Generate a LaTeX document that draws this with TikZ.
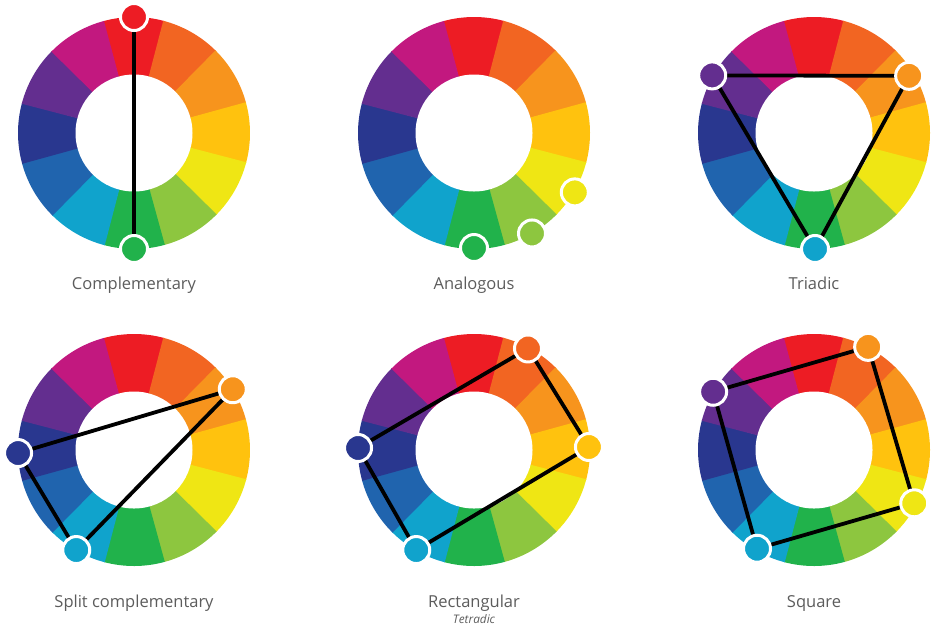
\documentclass[tikz,border=0pt]{standalone}
\usepackage{fontspec}
\setmainfont{Open Sans}
\definecolor{wred}{HTML}{ED1C24}
\definecolor{wredorange}{HTML}{F26522}
\definecolor{worange}{HTML}{F7941D}
\definecolor{wyelloworange}{HTML}{FFC20E}
\definecolor{wyellow}{HTML}{EFE614}
\definecolor{wyellowgreen}{HTML}{8DC63F}
\definecolor{wgreen}{HTML}{21B24B}
\definecolor{wcyan}{HTML}{10A3CC}
\definecolor{wblue}{HTML}{2064AE}
\definecolor{windigo}{HTML}{29378F}
\definecolor{wviolet}{HTML}{632E8F}
\definecolor{wmagenta}{HTML}{C2187F}
\definecolor{labelgray}{HTML}{5C5C5C}
\pgfdeclarelayer{edges}
\pgfdeclarelayer{marks}
\pgfsetlayers{main,edges,marks}
\tikzset{
  wheel/.pic={
    \foreach \c [count=\i from 0] in {wred,wredorange,worange,wyelloworange,wyellow,wyellowgreen,wgreen,wcyan,wblue,windigo,wviolet,wmagenta}
      \fill[\c] (0,0) -- (105.4-30*\i:116) arc[start angle=105.4-30*\i, end angle=75-30*\i, radius=116] -- cycle;
    \fill[white] (0,0) circle[radius=58.5];
  },
  swatch/.style={circle, fill=#1, draw=white, line width=3pt, minimum size=27pt, inner sep=0pt},
  link/.style={line width=3.8pt, black},
  caption/.style={anchor=base, text=labelgray, font=\fontsize{16.5}{20}\selectfont},
  subcaption/.style={anchor=base, text=labelgray, font=\fontsize{11.8}{14}\selectfont\itshape},
}
\begin{document}
\begin{tikzpicture}[x=1pt,y=1pt]
  \useasboundingbox (0,0) rectangle (933,-625);
  % complementary
  \begin{scope}[shift={(134,-133)}]
    \pic {wheel};
    \begin{pgfonlayer}{marks}
      \node[swatch=wred] (cm1) at (90:116) {};
      \node[swatch=wgreen] (cm2) at (-90:116) {};
    \end{pgfonlayer}
    \begin{pgfonlayer}{edges}
      \draw[link] (cm1.center) -- (cm2.center);
    \end{pgfonlayer}
    \node[caption] (complementary) at (0,-156.5) {Complementary};
  \end{scope}
  % analogous
  \begin{scope}[shift={(474,-133)}]
    \pic {wheel};
    \node[swatch=wgreen] (an1) at (-90:115) {};
    \node[swatch=wyellowgreen] (an2) at (-60:116) {};
    \node[swatch=wyellow] (an3) at (-30.5:117) {};
    \node[caption] (analogous) at (0,-156.5) {Analogous};
  \end{scope}
  % triadic
  \begin{scope}[shift={(814,-133)}]
    \pic {wheel};
    \begin{pgfonlayer}{marks}
      \node[swatch=wviolet] (tr1) at (150.5:117) {};
      \node[swatch=worange] (tr2) at (31:111) {};
      \node[swatch=wcyan] (tr3) at (-89.5:116) {};
    \end{pgfonlayer}
    \begin{pgfonlayer}{edges}
      \draw[link] (tr1.center) -- (tr2.center) -- (tr3.center) -- cycle;
    \end{pgfonlayer}
    \node[caption] (triadic) at (0,-156.5) {Triadic};
  \end{scope}
  % split complementary
  \begin{scope}[shift={(134,-450)}]
    \pic {wheel};
    \begin{pgfonlayer}{marks}
      \node[swatch=worange] (sp1) at (31.6:116) {};
      \node[swatch=windigo] (sp2) at (181.5:116) {};
      \node[swatch=wcyan] (sp3) at (-120:115.5) {};
    \end{pgfonlayer}
    \begin{pgfonlayer}{edges}
      \draw[link] (sp1.center) -- (sp2.center) -- (sp3.center) -- cycle;
    \end{pgfonlayer}
    \node[caption] (split) at (0,-157) {Split complementary};
  \end{scope}
  % rectangular
  \begin{scope}[shift={(474,-450)}]
    \pic {wheel};
    \begin{pgfonlayer}{marks}
      \node[swatch=wredorange] (rc1) at (62:115) {};
      \node[swatch=wyelloworange] (rc2) at (1.5:115) {};
      \node[swatch=wcyan] (rc3) at (-120:115.5) {};
      \node[swatch=windigo] (rc4) at (179:116) {};
    \end{pgfonlayer}
    \begin{pgfonlayer}{edges}
      \draw[link] (rc1.center) -- (rc2.center) -- (rc3.center) -- (rc4.center) -- cycle;
    \end{pgfonlayer}
    \node[caption] (rectangular) at (0,-157) {Rectangular};
    \node[subcaption] (tetradic) at (0,-173) {Tetradic};
  \end{scope}
  % square
  \begin{scope}[shift={(814,-450)}]
    \pic {wheel};
    \begin{pgfonlayer}{marks}
      \node[swatch=wviolet] (sq1) at (150:116.5) {};
      \node[swatch=worange] (sq2) at (62.3:116.5) {};
      \node[swatch=wyellow] (sq3) at (-28:113.5) {};
      \node[swatch=wcyan] (sq4) at (-120:114) {};
    \end{pgfonlayer}
    \begin{pgfonlayer}{edges}
      \draw[link] (sq1.center) -- (sq2.center) -- (sq3.center) -- (sq4.center) -- cycle;
    \end{pgfonlayer}
    \node[caption] (square) at (0,-157) {Square};
  \end{scope}
\end{tikzpicture}
\end{document}
